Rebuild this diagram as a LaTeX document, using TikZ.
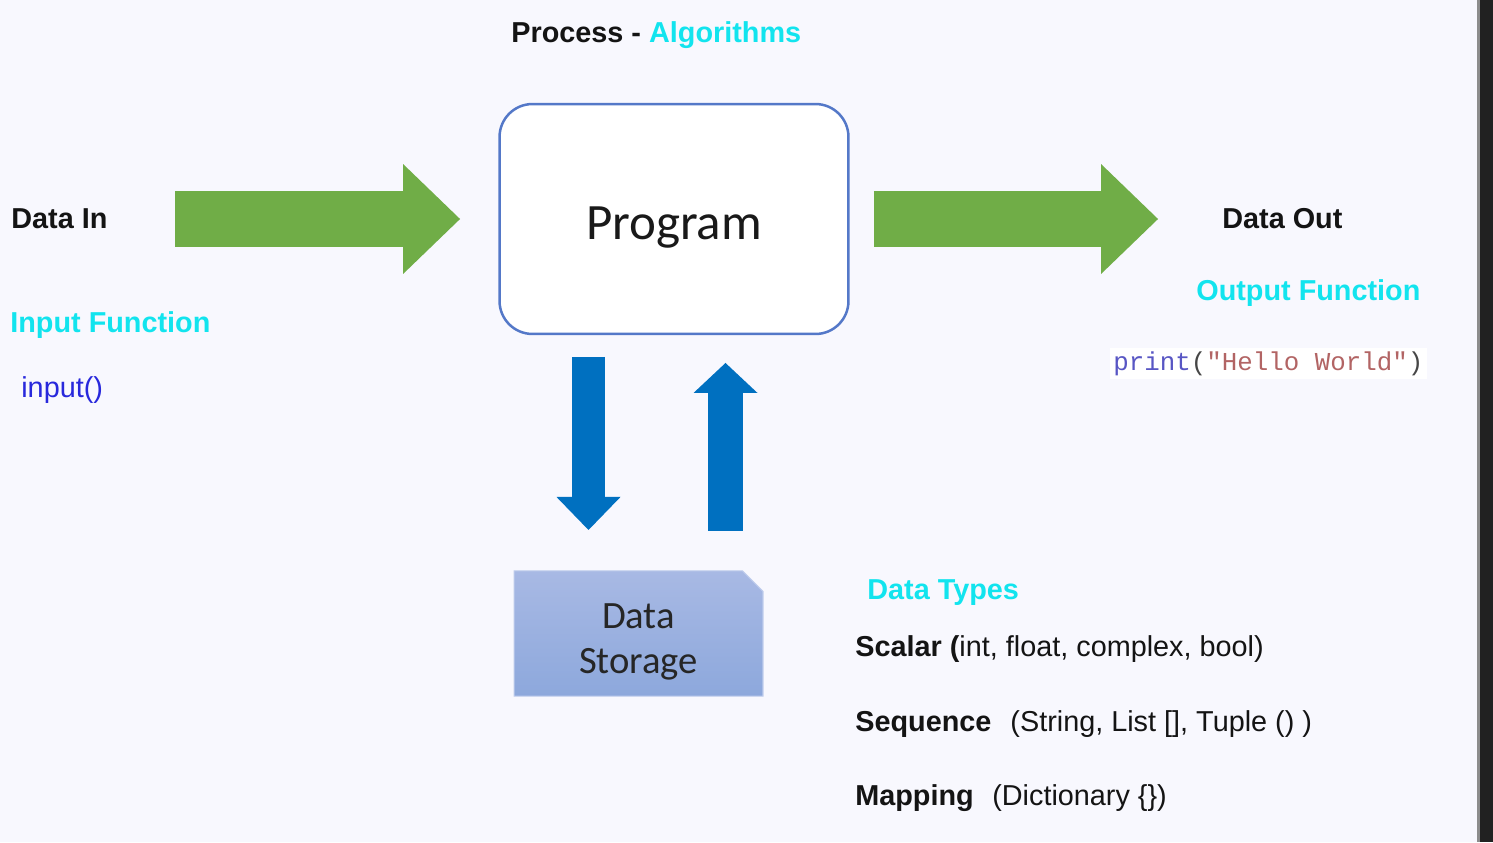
\documentclass[tikz,border=0pt]{standalone}
\usepackage{fontspec}
\setmainfont{Liberation Sans}
\setmonofont{Liberation Mono}
\newfontfamily\calibri{Carlito}
\usetikzlibrary{shapes.misc,arrows.meta}

\definecolor{bgcol}{RGB}{248,248,254}
\definecolor{cyantxt}{RGB}{18,228,238}
\definecolor{arrowgreen}{RGB}{112,173,71}
\definecolor{arrowblue}{RGB}{0,112,192}
\definecolor{boxline}{RGB}{84,120,200}
\definecolor{storetop}{RGB}{168,185,228}
\definecolor{storebot}{RGB}{141,168,220}
\definecolor{storeline}{RGB}{190,204,236}
\definecolor{callblue}{RGB}{40,40,220}
\definecolor{kwcol}{RGB}{88,86,196}
\definecolor{strcol}{RGB}{178,100,100}
\definecolor{parcol}{RGB}{70,70,70}

\begin{document}
\begin{tikzpicture}[x=0.02cm,y=-0.02cm,
  txt/.style={anchor=base west,inner sep=0pt,text=black!92,font=\fontsize{16.4}{19.7}\selectfont},
  boldtxt/.style={txt,font=\fontsize{16.4}{19.7}\selectfont\bfseries},
  head/.style={boldtxt,text=cyantxt},
  greenarrow/.style={arrowgreen,line width=1.12cm,-{Triangle[length=1.14cm,width=2.2cm,line width=0pt]}},
  downarrow/.style={arrowblue,line width=0.66cm,-{Triangle[length=0.66cm,width=1.28cm,line width=0pt]}},
  uparrow/.style={arrowblue,line width=0.7cm,-{Triangle[length=0.6cm,width=1.28cm,line width=0pt]}}]
  % screen background and window edge
  \fill[bgcol] (0,0) rectangle (1493,842);
  \fill[black!45] (1477,0) rectangle (1480,842);
  \fill[black!87] (1480,0) rectangle (1493,842);

  \node[boldtxt] (process) at (511,42) {Process - \textcolor{cyantxt}{Algorithms}};

  \node[draw=boxline,line width=0.05cm,fill=white,rounded corners=0.66cm,
        minimum width=6.98cm,minimum height=4.6cm,outer sep=0pt,
        text height=0.8cm,text depth=0pt,text=black!90,
        font=\calibri\fontsize{29}{34}\selectfont] (program) at (674,219) {Program};

  \node[chamfered rectangle,chamfered rectangle corners=north east,
        chamfered rectangle xsep=0.2cm,chamfered rectangle ysep=0.21cm,
        draw=storeline,line width=0.6pt,top color=storetop,bottom color=storebot,
        minimum width=4.98cm,minimum height=2.42cm,outer sep=0pt,align=center,
        text=black!85,font=\calibri\fontsize{22}{25.5}\selectfont] (storage) at (638.5,633.5)
        {\rule{0pt}{23.3pt}Data\\Storage};

  % left side
  \node[boldtxt] (datain) at (11,228) {Data In};
  \node[head] (inputfn) at (10,332) {Input Function};
  \node[txt,text=callblue] (inputcall) at (21,397) {input()};

  % right side
  \node[boldtxt] (dataout) at (1222,228) {Data Out};
  \node[head] (outputfn) at (1196,300) {Output Function};
  \node[anchor=base west,fill=white,inner sep=2pt,
        font=\ttfamily\fontsize{14.7}{17}\selectfont] (printcall) at (1109.5,370)
        {\textcolor{kwcol}{print}\textcolor{parcol}{(}\textcolor{strcol}{"Hello World"}\textcolor{parcol}{)}};

  % data types
  \node[head] (datatypes) at (867,599) {Data Types};
  \node[txt] (scalar) at (855,656) {\textbf{Scalar (}int, float, complex, bool)};
  \node[txt] (sequence) at (855,731) {\textbf{Sequence}\hspace{0.38cm}(String, List [], Tuple () )};
  \node[txt] (mapping) at (855,805) {\textbf{Mapping}\hspace{0.37cm}(Dictionary \{\})};

  % arrows
  \coordinate (dnx) at (588.5,0);
  \coordinate (upx) at (725.5,0);
  \draw[greenarrow,shorten <=1.35cm,shorten >=0.79cm] (datain.east |- program.west) -- (program.west);
  \draw[greenarrow,shorten <=0.51cm,shorten >=1.28cm] (program.east) -- (program.east -| dataout.west);
  \draw[downarrow,shorten <=0.46cm,shorten >=0.82cm] (program.south -| dnx) -- (storage.north -| dnx);
  \draw[uparrow,shorten <=0.8cm,shorten >=0.58cm] (storage.north -| upx) -- (program.south -| upx);
\end{tikzpicture}
\end{document}
